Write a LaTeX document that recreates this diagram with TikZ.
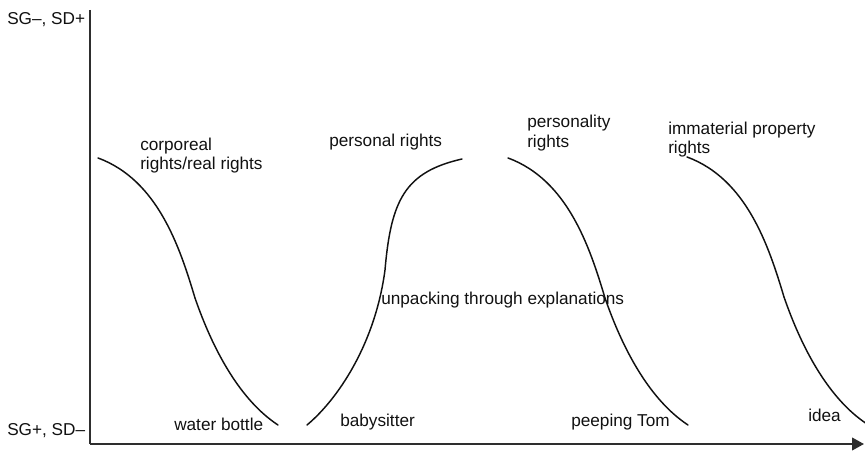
\documentclass[tikz,border=0pt]{standalone}
\usepackage{fontspec}
\setmainfont{Liberation Sans}
\usetikzlibrary{arrows.meta}
\definecolor{axisgray}{HTML}{2E2E2E}
\definecolor{inkblack}{HTML}{111111}
\tikzset{
  axisline/.style={draw=axisgray, line width=1.6pt},
  curveline/.style={draw=inkblack, line width=1.1pt, line cap=round},
  lbl/.style={anchor=base west, inner sep=0pt, text=inkblack,
              font=\fontsize{12.9}{15}\selectfont},
}
% falling S-curve, drawn relative to its upper start point
\newcommand{\fallwave}[1]{%
  \draw[curveline, shift={(#1)}] (0,0)
    .. controls (60,22) and (82,90) .. (97,140)
    .. controls (115,192) and (142,242) .. (180,267);}
\begin{document}
\begin{tikzpicture}[x=0.75pt, y=-0.75pt]
  \useasboundingbox (0,0) rectangle (865,452);

  % axes
  \coordinate (top) at (90,10);
  \coordinate (origin) at (90,444);
  \coordinate (right) at (864,444);
  \draw[axisline] (top) -- (origin);
  \draw[axisline, -{Triangle[length=9pt, width=9.5pt]}] (origin) -- (right);

  % axis pole labels
  \node[lbl] (high) at (7,25) {SG–, SD+};
  \node[lbl] (low) at (7,436) {SG+, SD–};

  % waves between abstract and concrete meaning
  \fallwave{98,158}
  \draw[curveline] (307,425)
    .. controls (337,400) and (375,345) .. (385,270)
    .. controls (391,200) and (405,172) .. (462,159);
  \fallwave{508,158}
  \fallwave{687,157}

  % upper labels
  \node[lbl] (corp1) at (140,151) {corporeal};
  \node[lbl] (corp2) at (140,170) {rights/real rights};
  \node[lbl] (pers) at (329,147) {personal rights};
  \node[lbl] (persy1) at (527,128) {personality};
  \node[lbl] (persy2) at (527,148) {rights};
  \node[lbl] (imm1) at (668,135) {immaterial property};
  \node[lbl] (imm2) at (668,154) {rights};

  % middle label
  \node[lbl] (unpack) at (381,305) {unpacking through explanations};

  % lower labels
  \node[lbl] (water) at (174,431) {water bottle};
  \node[lbl] (baby) at (340,427) {babysitter};
  \node[lbl] (peep) at (571,427) {peeping Tom};
  \node[lbl] (idea) at (808,422) {idea};
\end{tikzpicture}
\end{document}
